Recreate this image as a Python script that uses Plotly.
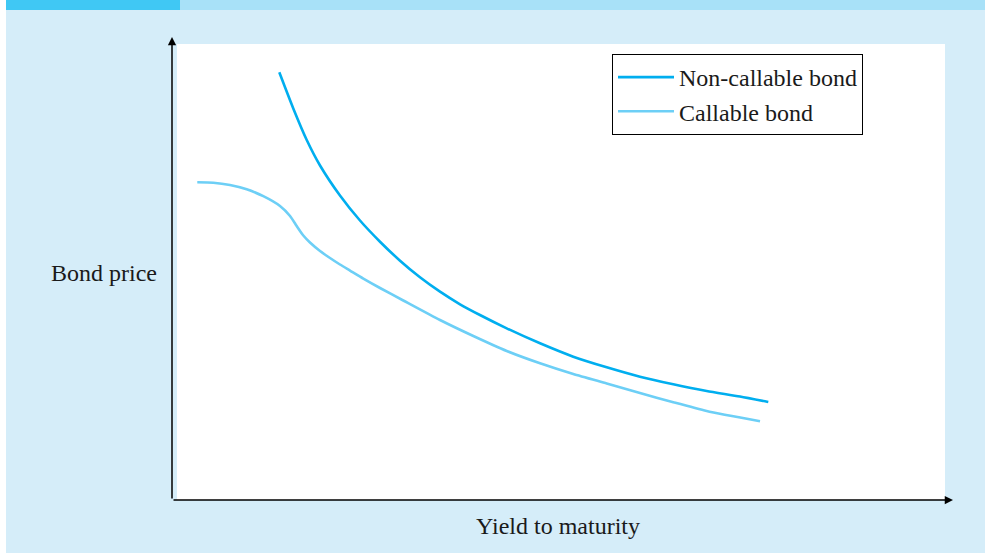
import plotly.graph_objects as go

# Data (abstract units: yield 0-10, price 0-10)
noncall_yield = [1.388, 1.569, 1.743, 1.915, 2.173, 2.432, 2.691, 2.950, 3.208, 3.467, 3.726,
                 3.984, 4.330, 4.761, 5.191, 5.624, 6.054, 6.485, 6.917, 7.348, 7.714]
noncall_price = [9.379, 8.586, 7.895, 7.336, 6.678, 6.129, 5.664, 5.248, 4.884, 4.568, 4.292,
                 4.057, 3.765, 3.436, 3.143, 2.910, 2.704, 2.537, 2.390, 2.268, 2.149]
call_yield = [0.327, 0.534, 0.750, 0.966, 1.181, 1.397, 1.527, 1.613, 1.699, 1.785, 1.915,
              2.044, 2.173, 2.303, 2.475, 2.691, 2.992, 3.467, 3.898, 4.330, 4.761, 5.191,
              5.624, 6.054, 6.485, 6.917, 7.607]
call_price = [6.967, 6.958, 6.908, 6.814, 6.662, 6.447, 6.228, 6.009, 5.800, 5.647, 5.461,
              5.307, 5.164, 5.031, 4.855, 4.649, 4.375, 3.947, 3.596, 3.268, 2.998, 2.763,
              2.555, 2.346, 2.143, 1.952, 1.726]
series_names = ["Non-callable bond", "Callable bond"]
x_title = "Yield to maturity"
y_title = "Bond price"

BG = "rgb(213,237,249)"
DARK = "rgb(64,200,244)"
LIGHT = "rgb(168,225,248)"
C1 = "#00aeef"
C2 = "#6dcff6"
FONT = "Liberation Serif"
TXT = "#1a1a1a"

W, H = 985, 553
L, R, T, B = 172, 40, 44, 53
pw, ph = W - L - R, H - T - B

def px(x):
    return (x - L) / pw

def py(y):
    return (H - B - y) / ph

fig = go.Figure()
fig.add_trace(go.Scatter(x=noncall_yield, y=noncall_price, mode="lines", name=series_names[0],
                         line=dict(color=C1, width=2.6, shape="spline", smoothing=0.6)))
fig.add_trace(go.Scatter(x=call_yield, y=call_price, mode="lines", name=series_names[1],
                         line=dict(color=C2, width=2.6, shape="spline", smoothing=0.6)))

shapes = [
    # white plotting panel
    dict(type="rect", xref="paper", yref="paper", x0=px(177), x1=px(945), y0=py(500), y1=py(44),
         fillcolor="white", line=dict(width=0), layer="below"),
    # top bar
    dict(type="rect", xref="paper", yref="paper", x0=px(180), x1=px(985), y0=py(10), y1=py(0),
         fillcolor=LIGHT, line=dict(width=0), layer="below"),
    dict(type="rect", xref="paper", yref="paper", x0=px(6), x1=px(180), y0=py(10), y1=py(0),
         fillcolor=DARK, line=dict(width=0), layer="below"),
    # white strip at left
    dict(type="rect", xref="paper", yref="paper", x0=px(0), x1=px(6), y0=py(553), y1=py(0),
         fillcolor="white", line=dict(width=0), layer="below"),
]

annotations = [
    # y axis arrow
    dict(x=px(172), y=py(37), xref="paper", yref="paper", ax=0, ay=463,
         text="", showarrow=True, arrowhead=2, arrowsize=1.1, arrowwidth=1.5, arrowcolor="black"),
    # x axis arrow
    dict(x=px(953), y=py(500), xref="paper", yref="paper", ax=-781, ay=0,
         text="", showarrow=True, arrowhead=2, arrowsize=1.1, arrowwidth=1.5, arrowcolor="black"),
    dict(x=px(558), y=py(526), xref="paper", yref="paper", text=x_title, showarrow=False,
         font=dict(family=FONT, size=24, color=TXT), xanchor="center", yanchor="middle"),
    dict(x=px(104), y=py(273), xref="paper", yref="paper", text=y_title, showarrow=False,
         font=dict(family=FONT, size=24, color=TXT), xanchor="center", yanchor="middle"),
]

fig.update_layout(
    width=W, height=H,
    margin=dict(l=L, r=R, t=T, b=B),
    paper_bgcolor=BG, plot_bgcolor="rgba(0,0,0,0)",
    shapes=shapes, annotations=annotations,
    xaxis=dict(range=[0, 10], visible=False, fixedrange=True),
    yaxis=dict(range=[0, 10], visible=False, fixedrange=True),
    legend=dict(x=px(612), y=py(54), xanchor="left", yanchor="top",
                bgcolor="white", bordercolor="black", borderwidth=1,
                font=dict(family=FONT, size=24, color=TXT), itemwidth=56,
                tracegroupgap=0),
    showlegend=True,
)

fig.write_html("out.html", config={"displayModeBar": False},
               post_script="document.body.style.margin='0';document.body.style.padding='0';")
